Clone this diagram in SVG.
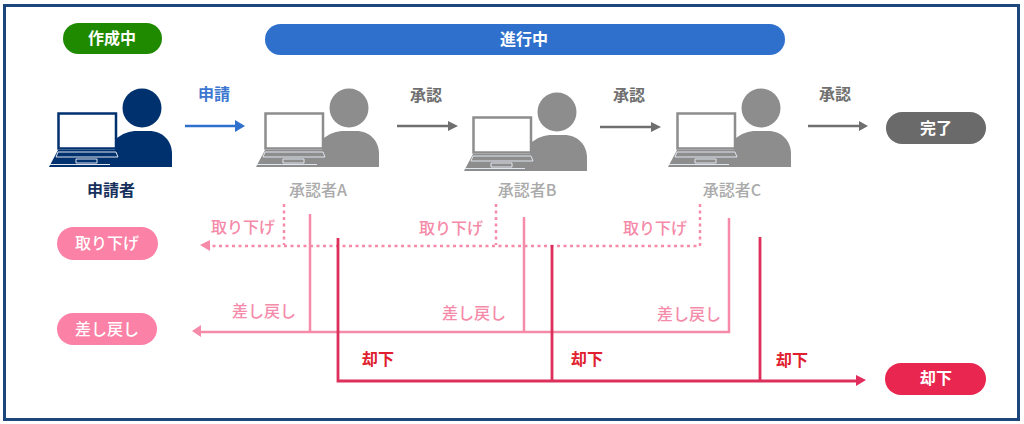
<svg xmlns="http://www.w3.org/2000/svg" width="1024" height="424" viewBox="0 0 1024 424">
<style>
text{font-family:"Noto Sans CJK JP","Liberation Sans",sans-serif;font-weight:700;text-anchor:middle;font-size:16px}
.pill{fill:#fff}
.soft{font-weight:500}
.pk{fill:#f58aa9;font-weight:500}
.gy{fill:#6f6f6f}
.re{fill:#e0202f}
.ap{fill:#aaa;font-weight:500}
.c{fill:none;stroke-width:2.5}
</style>
<defs>
<symbol id="person" viewBox="0 0 124 80" width="124" height="80" overflow="visible">
<circle cx="93" cy="20" r="19.5" fill="currentColor"/>
<path d="M66 52C73 45 81 43 88 43H100C114 43 123 53 123 66V79H66Z" fill="currentColor"/>
<path d="M9.500 25.500H67V60.500H9.500Z" fill="#fff" stroke="currentColor" stroke-width="2.500"/>
<path d="M9 62H68L75 79H0Z" fill="currentColor"/>
<path d="M7 69L9 64H67L69 69ZM27 71H48V75H27ZM1 76.500H61" fill="none" stroke="#dfe5ee" stroke-width="1"/>
</symbol>
</defs>
<rect x="4.500" y="5.500" width="1014" height="414" fill="#fff" stroke="#1c467c" stroke-width="3"/>
<g id="connectors">
<path class="c" stroke="#2f70cd" d="M185 126H238"/><path fill="#2f70cd" d="M235 120L245 126L235 132Z"/>
<path class="c" stroke="#6f6f6f" d="M397 126H450"/><path fill="#6f6f6f" d="M448 121L458 126L448 131Z"/>
<path class="c" stroke="#6f6f6f" d="M600 127H653"/><path fill="#6f6f6f" d="M651 122L661 127L651 132Z"/>
<path class="c" stroke="#6f6f6f" d="M808 126H861"/><path fill="#6f6f6f" d="M859 121L868 126L859 131Z"/>
<path d="M284 204V245M496 204V245M700 204V246H208" fill="none" stroke="#f58aa9" stroke-width="2.500" stroke-dasharray="3 3.500"/><path fill="#f58aa9" d="M210 240L200 245L210 251Z"/>
<path class="c" stroke="#f58aa9" d="M310 214V331M524 217V331M729 218V332H198"/><path fill="#f58aa9" d="M201 325L192 331L201 337Z"/>
<path d="M338 238V381H858M552 245V381M760 237V381" fill="none" stroke="#dc2f5b" stroke-width="2.800"/><path fill="#e22c5c" d="M856 375L866 380L856 386Z"/>
</g>
<g id="n-draft"><rect x="63" y="23" width="99" height="31" rx="15.500" fill="#1f8a00"/><text class="pill" x="112" y="43.500">作成中</text></g>
<g id="n-progress"><rect x="265" y="24" width="520" height="31" rx="15.500" fill="#2f70cd"/><text class="pill" x="524" y="44.500">進行中</text></g>
<g id="n-applicant" color="#00316f"><use href="#person" x="49" y="88"/><text x="111" y="196" fill="#16305c">申請者</text></g>
<g id="n-a" color="#8d8d8d"><use href="#person" x="256" y="88"/><text x="318" y="196" class="ap">承認者A</text></g>
<g id="n-b" color="#8d8d8d"><use href="#person" x="464" y="92"/><text x="527" y="196" class="ap">承認者B</text></g>
<g id="n-c" color="#8d8d8d"><use href="#person" x="668" y="88"/><text x="732" y="196" class="ap">承認者C</text></g>
<g id="n-done"><rect x="886" y="112" width="100" height="32" rx="16" fill="#6a6a6a"/><text class="pill" x="936" y="133.500">完了</text></g>
<g id="n-withdraw"><rect x="57" y="227" width="101" height="33" rx="16.500" fill="#fb81a6"/><text class="pill soft" x="107" y="248.500">取り下げ</text></g>
<g id="n-return"><rect x="57" y="313" width="100" height="32" rx="16" fill="#fb81a6"/><text class="pill soft" x="107" y="334.500">差し戻し</text></g>
<g id="n-reject"><rect x="885" y="363" width="101" height="32" rx="16" fill="#e8264f"/><text class="pill" x="936" y="383.500">却下</text></g>
<g id="labels">
<text x="214" y="100" fill="#3d78d0">申請</text>
<text class="gy" x="426" y="101">承認</text>
<text class="gy" x="629" y="101">承認</text>
<text class="gy" x="835" y="100">承認</text>
<text class="pk" x="243" y="233">取り下げ</text>
<text class="pk" x="451" y="234">取り下げ</text>
<text class="pk" x="655" y="234">取り下げ</text>
<text class="pk" x="264" y="317">差し戻し</text>
<text class="pk" x="474" y="319">差し戻し</text>
<text class="pk" x="689" y="320">差し戻し</text>
<text class="re" x="378" y="365">却下</text>
<text class="re" x="587" y="365">却下</text>
<text class="re" x="792" y="366">却下</text>
</g>
</svg>
